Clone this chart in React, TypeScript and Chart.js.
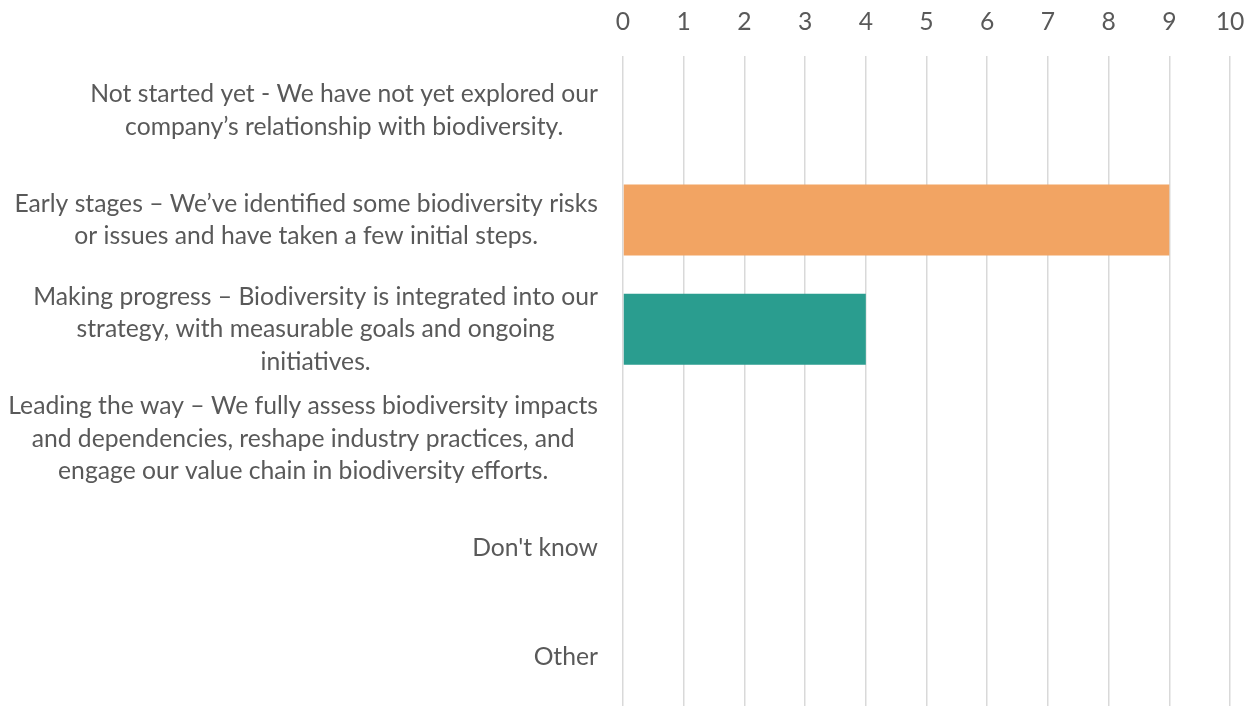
import React, { useEffect, useRef } from "react";
import { Chart, registerables } from "chart.js";

Chart.register(...registerables);

const categories: string[][] = [
  ["Not started yet - We have not yet explored our", "company’s relationship with biodiversity."],
  ["Early stages – We’ve identified some biodiversity risks", "or issues and have taken a few initial steps."],
  ["Making progress – Biodiversity is integrated into our", "strategy, with measurable goals and ongoing", "initiatives."],
  ["Leading the way – We fully assess biodiversity impacts", "and dependencies, reshape industry practices, and", "engage our value chain in biodiversity efforts."],
  ["Don't know"],
  ["Other"],
];
const values: number[] = [0, 9, 4, 0, 0, 0];
const barColors: string[] = ["#5B9BD5", "#F2A463", "#2A9D8F", "#E76F51", "#A5A5A5", "#264653"];
const xMin = 0;
const xMax = 10;
const xStep = 1;

const FONT = "Lato";
const FS = 24.7;
const LH = 32.5;
const TEXT = "#595959";

const blockLabels = {
  id: "blockLabels",
  afterDraw(chart: any) {
    const ctx = chart.ctx;
    const y = chart.scales.y;
    ctx.save();
    ctx.font = `${FS}px ${FONT}`;
    ctx.fillStyle = TEXT;
    ctx.textBaseline = "middle";
    ctx.textAlign = "center";
    const right = chart.chartArea.left - 25;
    categories.forEach((lines, i) => {
      const cy = y.getPixelForTick(i);
      const w = Math.max(...lines.map((l) => ctx.measureText(l).width));
      const cx = right - w / 2;
      lines.forEach((l, j) => {
        ctx.fillText(l, cx, cy + (j - (lines.length - 1) / 2) * LH);
      });
    });
    ctx.restore();
  },
};

export default function App() {
  const ref = useRef<HTMLCanvasElement | null>(null);
  useEffect(() => {
    if (!ref.current) return;
    const chart = new Chart(ref.current, {
      type: "bar",
      data: {
        labels: categories,
        datasets: [
          {
            data: values,
            backgroundColor: barColors,
            borderWidth: 0,
            barPercentage: 0.65,
            categoryPercentage: 1,
          },
        ],
      },
      options: {
        indexAxis: "y",
        animation: false,
        responsive: false,
        devicePixelRatio: 1,
        layout: { padding: { left: 0, right: 27, top: 0, bottom: 0 } },
        plugins: { legend: { display: false }, tooltip: { enabled: false } },
        scales: {
          x: {
            position: "top",
            min: xMin,
            max: xMax,
            ticks: { stepSize: xStep, color: TEXT, font: { family: FONT, size: FS }, padding: 19 },
            grid: { color: "#d9d9d9", lineWidth: 1.5, drawTicks: false },
            border: { display: false },
            afterFit: (s: any) => {
              s.height = 56;
              s.paddingLeft = 0;
              s.paddingRight = 0;
            },
          },
          y: {
            ticks: { color: "transparent", font: { family: FONT, size: FS } },
            grid: { display: false },
            border: { display: false },
            afterFit: (s: any) => {
              s.width = 623;
              s.paddingTop = 0;
              s.paddingBottom = 0;
            },
          },
        },
      },
      plugins: [blockLabels],
    });
    return () => chart.destroy();
  }, []);
  return (
    <div style={{ position: "fixed", left: 0, top: 0, width: 1257, height: 712, background: "#fff" }}>
      <canvas ref={ref} width={1257} height={712} style={{ display: "block", width: 1257, height: 712 }} />
    </div>
  );
}
